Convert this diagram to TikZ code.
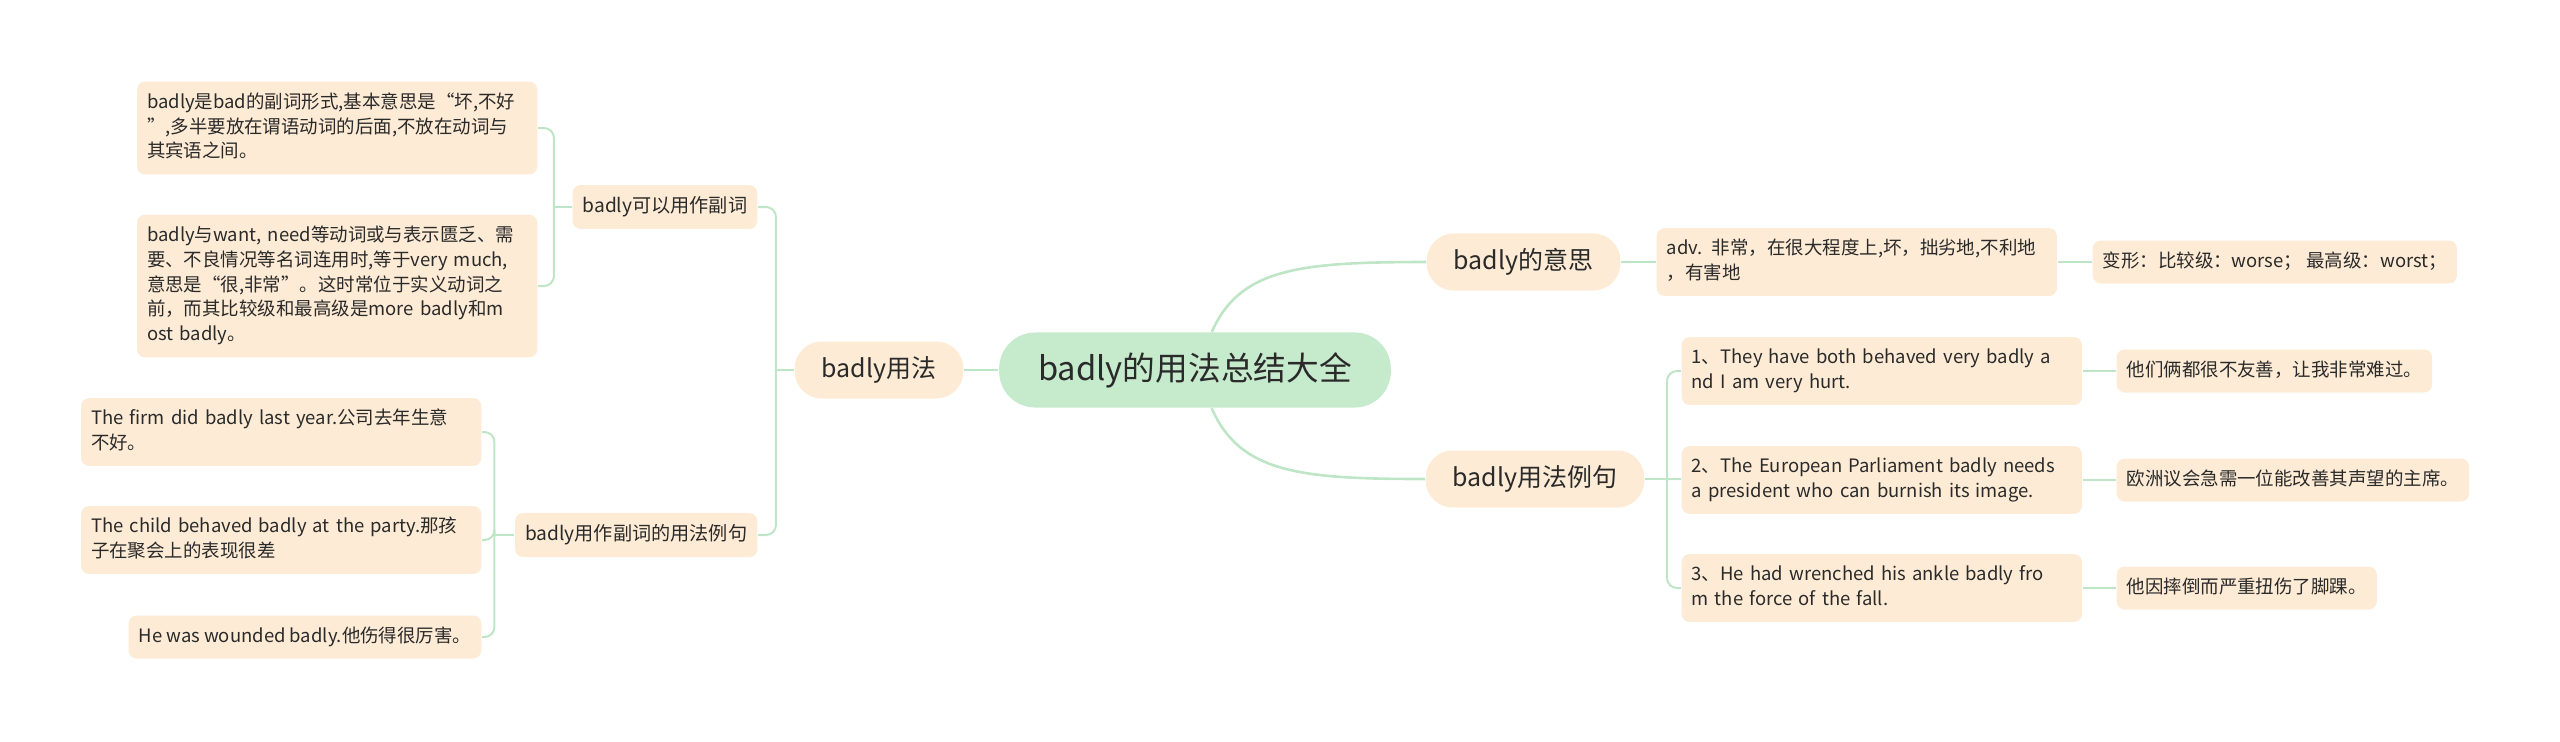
\documentclass[tikz,border=0pt]{standalone}
\usepackage{fontspec}
\usepackage{xcolor}
\usepackage{tikz}
\usetikzlibrary{positioning,calc}
\newfontfamily\cjk{Noto Sans CJK SC}
\definecolor{RootFill}{HTML}{C6EACC}
\definecolor{LeafFill}{HTML}{FDEBD5}
\definecolor{LinkGreen}{HTML}{BEE5C6}
\definecolor{TextInk}{HTML}{2A2A2A}

\begin{document}
\begin{tikzpicture}[x=0.01cm,y=-0.01cm,font=\cjk,text=TextInk,
  root/.style={fill=RootFill,rounded corners=0.36cm,minimum height=0.75cm,inner xsep=0.39cm,
    font=\cjk\fontsize{9.3}{11}\selectfont},
  main/.style={fill=LeafFill,rounded corners=0.27cm,minimum height=0.57cm,inner xsep=0.27cm,
    font=\cjk\fontsize{7.1}{8.5}\selectfont},
  sub/.style={fill=LeafFill,rounded corners=0.08cm,minimum height=0.42cm,inner xsep=0.1cm,
    font=\cjk\fontsize{5.45}{7.1}\selectfont},
  leaf/.style={fill=LeafFill,rounded corners=0.08cm,inner xsep=0.1cm,inner ysep=0.09cm,align=left,
    font=\cjk\fontsize{5.25}{7.1}\selectfont,
    execute at begin node=\strut,execute at end node=\strut},
  wide/.style={text width=3.8cm},
  trunk/.style={draw=LinkGreen,line width=0.026cm},
  twig/.style={draw=LinkGreen,line width=0.02cm,rounded corners=0.1cm}]
  \useasboundingbox (0,0) rectangle (2560,741);

  % centre and the three main topics
  \node[root] (root) at (1195,370) {badly的用法总结大全};
  \node[main] (usage) at (879,370) {badly用法};
  \node[main,anchor=west] (mean) at (1426,262) {badly的意思};
  \node[main,anchor=west] (egs) at (1425,479) {badly用法例句};

  % left side
  \node[sub,anchor=east] (adverb) at (758,207) {badly可以用作副词};
  \node[sub,anchor=east] (adveg) at (758,535) {badly用作副词的用法例句};
  \node[leaf,wide,anchor=east] (basic) at (538,128)
    {badly是bad的副词形式,基本意思是“坏,不好\\”,多半要放在谓语动词的后面,不放在动词与\\其宾语之间。};
  \node[leaf,wide,anchor=east] (verymuch) at (538,286)
    {badly与want, need等动词或与表示匮乏、需\\要、不良情况等名词连用时,等于very much,\\意思是“很,非常”。这时常位于实义动词之\\前，而其比较级和最高级是more badly和m\\ost badly。};
  \node[leaf,wide,anchor=east] (firm) at (482,432)
    {The firm did badly last year.公司去年生意\\不好。};
  \node[leaf,wide,anchor=east] (child) at (482,540)
    {The child behaved badly at the party.那孩\\子在聚会上的表现很差};
  \node[leaf,anchor=east] (wounded) at (482,637) {He was wounded badly.他伤得很厉害。};

  % right side
  \node[leaf,wide,anchor=west] (adv) at (1656,262) {adv. 非常，在很大程度上,坏，拙劣地,不利地\\，有害地};
  \node[leaf,anchor=west] (forms) at (2092,262) {变形：比较级：worse； 最高级：worst；};
  \node[leaf,wide,anchor=west] (ex1) at (1681,371)
    {1、They have both behaved very badly a\\nd I am very hurt.};
  \node[leaf,wide,anchor=west] (ex2) at (1681,480)
    {2、The European Parliament badly needs\\a president who can burnish its image.};
  \node[leaf,wide,anchor=west] (ex3) at (1681,588)
    {3、He had wrenched his ankle badly fro\\m the force of the fall.};
  \node[leaf,anchor=west] (tr1) at (2116,371) {他们俩都很不友善，让我非常难过。};
  \node[leaf,anchor=west] (tr2) at (2116,480) {欧洲议会急需一位能改善其声望的主席。};
  \node[leaf,anchor=west] (tr3) at (2116,588) {他因摔倒而严重扭伤了脚踝。};

  % connectors
  \draw[trunk] (root) -- (usage);
  \draw[trunk] (root) .. controls (1240,268) and (1300,262) .. (mean.west);
  \draw[trunk] (root) .. controls (1240,473) and (1300,479) .. (egs.west);

  \coordinate[left=0.18cm of usage] (usagefork);
  \draw[twig] (usage) -- (usagefork);
  \draw[twig] (usagefork) |- (adverb);
  \draw[twig] (usagefork) |- (adveg);

  \coordinate[left=0.18cm of adverb] (adverbfork);
  \draw[twig] (adverb) -- (adverbfork);
  \draw[twig] (adverbfork) |- (basic);
  \draw[twig] (adverbfork) |- (verymuch);

  \coordinate[left=0.2cm of adveg] (advegfork);
  \draw[twig] (adveg) -- (advegfork);
  \draw[twig] (advegfork) |- (firm);
  \draw[twig] (advegfork) |- (child);
  \draw[twig] (advegfork) |- (wounded);

  \draw[twig] (mean) -- (adv);
  \draw[twig] (adv) -- (forms);

  \coordinate[right=0.22cm of egs] (egsfork);
  \draw[twig] (egs) -- (egsfork);
  \draw[twig] (egsfork) |- (ex1);
  \draw[twig] (egsfork) -- (ex2);
  \draw[twig] (egsfork) |- (ex3);
  \draw[twig] (ex1) -- (tr1);
  \draw[twig] (ex2) -- (tr2);
  \draw[twig] (ex3) -- (tr3);
\end{tikzpicture}
\end{document}
